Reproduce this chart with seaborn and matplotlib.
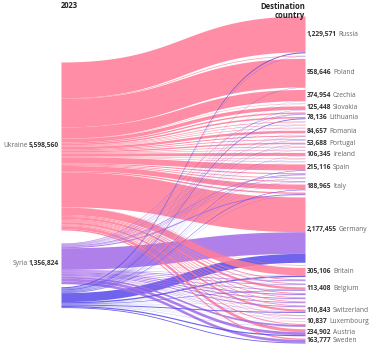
import numpy as np
import matplotlib
matplotlib.use("Agg")
import matplotlib.pyplot as plt
import seaborn as sns

# ---------------- data ----------------
origins = ["Ukraine", "Syria", ""]
origin_colors = ["#ff7d99", "#a56fe8", "#5b4fe9"]

destinations = ["Russia", "", "Poland", "Czechia", "", "Slovakia", "", "Lithuania",
                "", "", "", "Romania", "", "", "Portugal", "", "", "Ireland", "", "",
                "Spain", "", "", "", "Italy", "", "Germany", "", "Britain", "", "",
                "Belgium", "", "", "", "", "Switzerland", "", "", "Luxembourg", "",
                "Austria", "Sweden"]

from_ukraine = [1195000, 20560, 950000, 370000, 12000, 117000, 45000, 50000,
                22000, 16000, 17000, 80000, 32000, 24000, 45000, 20000, 16000, 100000,
                15000, 15000, 200000, 35000, 24000, 28000, 170000, 45000, 1160000,
                10000, 250000, 30000, 28000, 75000, 30000, 24000, 25000, 25000, 70000,
                15000, 12000, 6000, 30000, 100000, 45000]

from_syria = [0, 0, 0, 0, 0, 0, 18000, 0,
              3000, 5000, 4000, 0, 8000, 12000, 0, 8000, 6000, 0,
              6000, 5000, 0, 25000, 12000, 10000, 0, 35000, 720000,
              4000, 10000, 25000, 20000, 20000, 35000, 30000, 28000, 30000, 10000,
              12824, 8000, 2000, 60000, 95000, 90000]

from_other = [34571, 8000, 8646, 4954, 4000, 8448, 8000, 28136,
              2000, 3000, 2000, 4657, 4000, 3000, 8688, 2000, 3000, 6345,
              2000, 2000, 15116, 5000, 3000, 4000, 18965, 5000, 297455,
              2000, 45106, 4000, 4000, 18408, 3000, 3000, 4000, 3000, 30843,
              2000, 2000, 2837, 6000, 39902, 28777]

header_left = "2023"
header_right = "Destination\ncountry"

# ---------------- layout ----------------
W, H = 382, 346
S = 33325.0               # people per pixel
x_left, x_right = 61, 305
left_top = 62 * S
left_gaps = [13 * S, 3 * S]
right_top = 16.0 * S
right_pad = 2.32 * S

sns.set_theme(style="white")
plt.rcParams["font.family"] = ["Open Sans", "DejaVu Sans"]
palette = sns.color_palette(origin_colors)

flows = np.array([from_ukraine, from_syria, from_other], dtype=float)  # (origin, dest)
orig_tot = flows.sum(axis=1)
dest_tot = flows.sum(axis=0)

# node positions
o_y0 = []
y = left_top
for i, t in enumerate(orig_tot):
    o_y0.append(y)
    y += t + (left_gaps[i] if i < len(left_gaps) else 0)
d_y0 = []
y = right_top
for t in dest_tot:
    d_y0.append(y)
    y += t + right_pad

fig = plt.figure(figsize=(W / 100, H / 100), dpi=100)
ax = fig.add_axes([0, 0, 1, 1])
ax.set_xlim(0, W)
ax.set_ylim(H * S, 0)
ax.axis("off")

tt = np.linspace(0, 1, 120)
xm = (x_left + x_right) / 2
bx = (1 - tt) ** 3 * x_left + 3 * (1 - tt) ** 2 * tt * xm + 3 * (1 - tt) * tt ** 2 * xm + tt ** 3 * x_right
def by(a, b):
    return ((1 - tt) ** 3 + 3 * (1 - tt) ** 2 * tt) * a + (3 * (1 - tt) * tt ** 2 + tt ** 3) * b

# source offsets ordered by destination; target offsets ordered by origin
src_off = {}
for i in range(len(origins)):
    c = o_y0[i]
    for j in range(len(destinations)):
        src_off[(i, j)] = c
        c += flows[i, j]
tgt_off = {}
for j in range(len(destinations)):
    c = d_y0[j]
    for i in range(len(origins)):
        tgt_off[(i, j)] = c
        c += flows[i, j]

order = sorted([(i, j) for i in range(len(origins)) for j in range(len(destinations)) if flows[i, j] > 0],
               key=lambda k: -flows[k])
for (i, j) in order:
    v = flows[i, j]
    s0, t0 = src_off[(i, j)], tgt_off[(i, j)]
    top = by(s0, t0)
    bot = by(s0 + v, t0 + v)
    ax.fill_between(bx, top, bot, color=palette[i], alpha=0.88, lw=0)

# labels
fig.canvas.draw()
rend = fig.canvas.get_renderer()
fs = 4.8
num_col, name_col = "#333333", "#666666"

def px_width(txt):
    return txt.get_window_extent(renderer=rend).width

for j, name in enumerate(destinations):
    if not name:
        continue
    yc = d_y0[j] + dest_tot[j] / 2
    t1 = ax.text(x_right + 2, yc, f"{int(dest_tot[j]):,}", fontsize=fs, fontweight="bold",
                 color=num_col, ha="left", va="center")
    w = px_width(t1)
    ax.text(x_right + 2 + w + 1.5, yc, name, fontsize=fs, color=name_col, ha="left", va="center")

for i, name in enumerate(origins):
    if not name:
        continue
    yc = o_y0[i] + orig_tot[i] / 2
    t1 = ax.text(x_left - 2, yc, f"{int(orig_tot[i]):,}", fontsize=fs, fontweight="bold",
                 color=num_col, ha="right", va="center")
    w = px_width(t1)
    ax.text(x_left - 2 - w - 1.5, yc, name, fontsize=fs, color=name_col, ha="right", va="center")

ax.text(x_left, 5 * S, header_left, fontsize=5.5, fontweight="bold", color="#222222",
        ha="left", va="center")
ax.text(x_right, 2 * S, header_right, fontsize=5.5, fontweight="bold", color="#222222",
        ha="right", va="top", multialignment="right", linespacing=1.0)

fig.savefig("out.png", dpi=100)
